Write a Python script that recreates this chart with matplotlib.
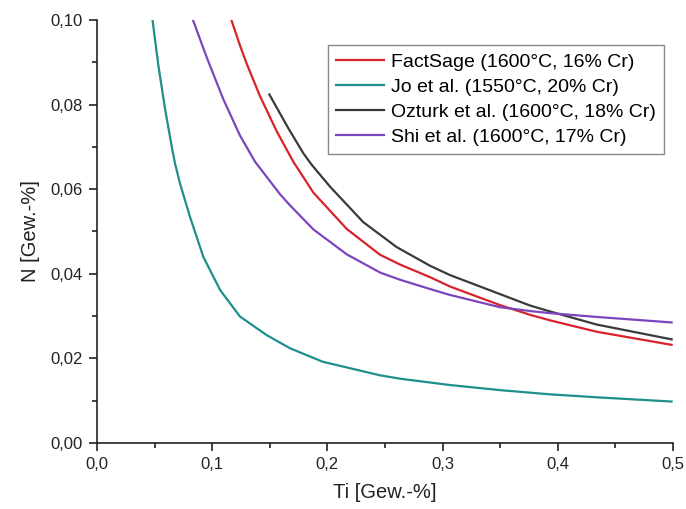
import matplotlib
matplotlib.use("Agg")
import matplotlib.pyplot as plt
from matplotlib.ticker import MultipleLocator, FuncFormatter

plt.rcParams['font.family'] = ['Liberation Sans', 'DejaVu Sans']

# Ti [wt.-%] and N [wt.-%] along each solubility curve
factsage_ti = [0.1169, 0.1241, 0.1299, 0.1415, 0.1560, 0.1704, 0.1878, 0.2168, 0.2457,
               0.2630, 0.2891, 0.3064, 0.3498, 0.3759, 0.3932, 0.4338, 0.4988]
factsage_n = [0.0998, 0.0940, 0.0897, 0.0820, 0.0737, 0.0665, 0.0592, 0.0506, 0.0445,
              0.0422, 0.0392, 0.0370, 0.0326, 0.0303, 0.0290, 0.0263, 0.0232]

jo_ti = [0.0483, 0.0532, 0.0590, 0.0654, 0.0677, 0.0720, 0.0807, 0.0923, 0.1068, 0.1241,
         0.1473, 0.1675, 0.1960, 0.2457, 0.2630, 0.3064, 0.3498, 0.3759, 0.3932, 0.4338, 0.4988]
jo_n = [0.0998, 0.0894, 0.0791, 0.0693, 0.0661, 0.0614, 0.0535, 0.0440, 0.0362, 0.0299,
        0.0255, 0.0224, 0.0192, 0.0160, 0.0152, 0.0137, 0.0125, 0.0119, 0.0115, 0.0108, 0.0098]

ozturk_ti = [0.1496, 0.1661, 0.1791, 0.1863, 0.2023, 0.2312, 0.2602, 0.2891, 0.3064,
             0.3498, 0.3759, 0.3932, 0.4338, 0.4988]
ozturk_n = [0.0824, 0.0744, 0.0685, 0.0658, 0.0606, 0.0522, 0.0463, 0.0419, 0.0397,
            0.0352, 0.0325, 0.0311, 0.0280, 0.0245]

shi_ti = [0.0836, 0.0952, 0.1096, 0.1241, 0.1372, 0.1589, 0.1675, 0.1878, 0.2168, 0.2457,
          0.2630, 0.2891, 0.3064, 0.3498, 0.3759, 0.3932, 0.4338, 0.4988]
shi_n = [0.0998, 0.0912, 0.0813, 0.0727, 0.0665, 0.0588, 0.0562, 0.0505, 0.0446, 0.0403,
         0.0386, 0.0364, 0.0350, 0.0321, 0.0312, 0.0307, 0.0298, 0.0285]

labels = ["FactSage (1600°C, 16% Cr)", "Jo et al. (1550°C, 20% Cr)",
          "Ozturk et al. (1600°C, 18% Cr)", "Shi et al. (1600°C, 17% Cr)"]
colors = ["#d8232a", "#1f8f8c", "#3a3a3a", "#7d45bd"]

fig = plt.figure(figsize=(6.86, 5.09), dpi=100)
ax = fig.add_axes([0.1414, 0.1297, 0.8396, 0.831])

series = [(factsage_ti, factsage_n), (jo_ti, jo_n), (ozturk_ti, ozturk_n), (shi_ti, shi_n)]
for (x, y), lab, c in zip(series, labels, colors):
    ax.plot(x, y, color=c, lw=1.6, label=lab, solid_joinstyle='round')

ax.set_xlim(0, 0.5)
ax.set_ylim(0, 0.10)
ax.spines['top'].set_visible(False)
ax.spines['right'].set_visible(False)
for s in ('left', 'bottom'):
    ax.spines[s].set_linewidth(1.2)
    ax.spines[s].set_color('#222222')

ax.xaxis.set_major_locator(MultipleLocator(0.1))
ax.xaxis.set_minor_locator(MultipleLocator(0.05))
ax.yaxis.set_major_locator(MultipleLocator(0.02))
ax.yaxis.set_minor_locator(MultipleLocator(0.01))
ax.xaxis.set_major_formatter(FuncFormatter(lambda v, p: f"{v:.1f}".replace('.', ',')))
ax.yaxis.set_major_formatter(FuncFormatter(lambda v, p: f"{v:.2f}".replace('.', ',')))
ax.tick_params(which='major', direction='out', length=6, width=1.2, labelsize=12,
               colors='#222222', pad=4)
ax.tick_params(which='minor', direction='out', length=3.5, width=1.2, colors='#222222')

ax.set_xlabel("Ti [Gew.-%]", fontsize=14.5, color='#222222', labelpad=8)
ax.set_ylabel("N [Gew.-%]", fontsize=14.5, color='#222222', labelpad=8)

leg = ax.legend(loc='upper left', bbox_to_anchor=(0.401, 0.94), fontsize=14,
                fancybox=False, framealpha=1, edgecolor='#888888',
                handlelength=2.5, handletextpad=0.35, borderpad=0.4,
                labelspacing=0.38, borderaxespad=0)
leg.get_frame().set_linewidth(1.0)

fig.savefig("out.png", dpi=100)
